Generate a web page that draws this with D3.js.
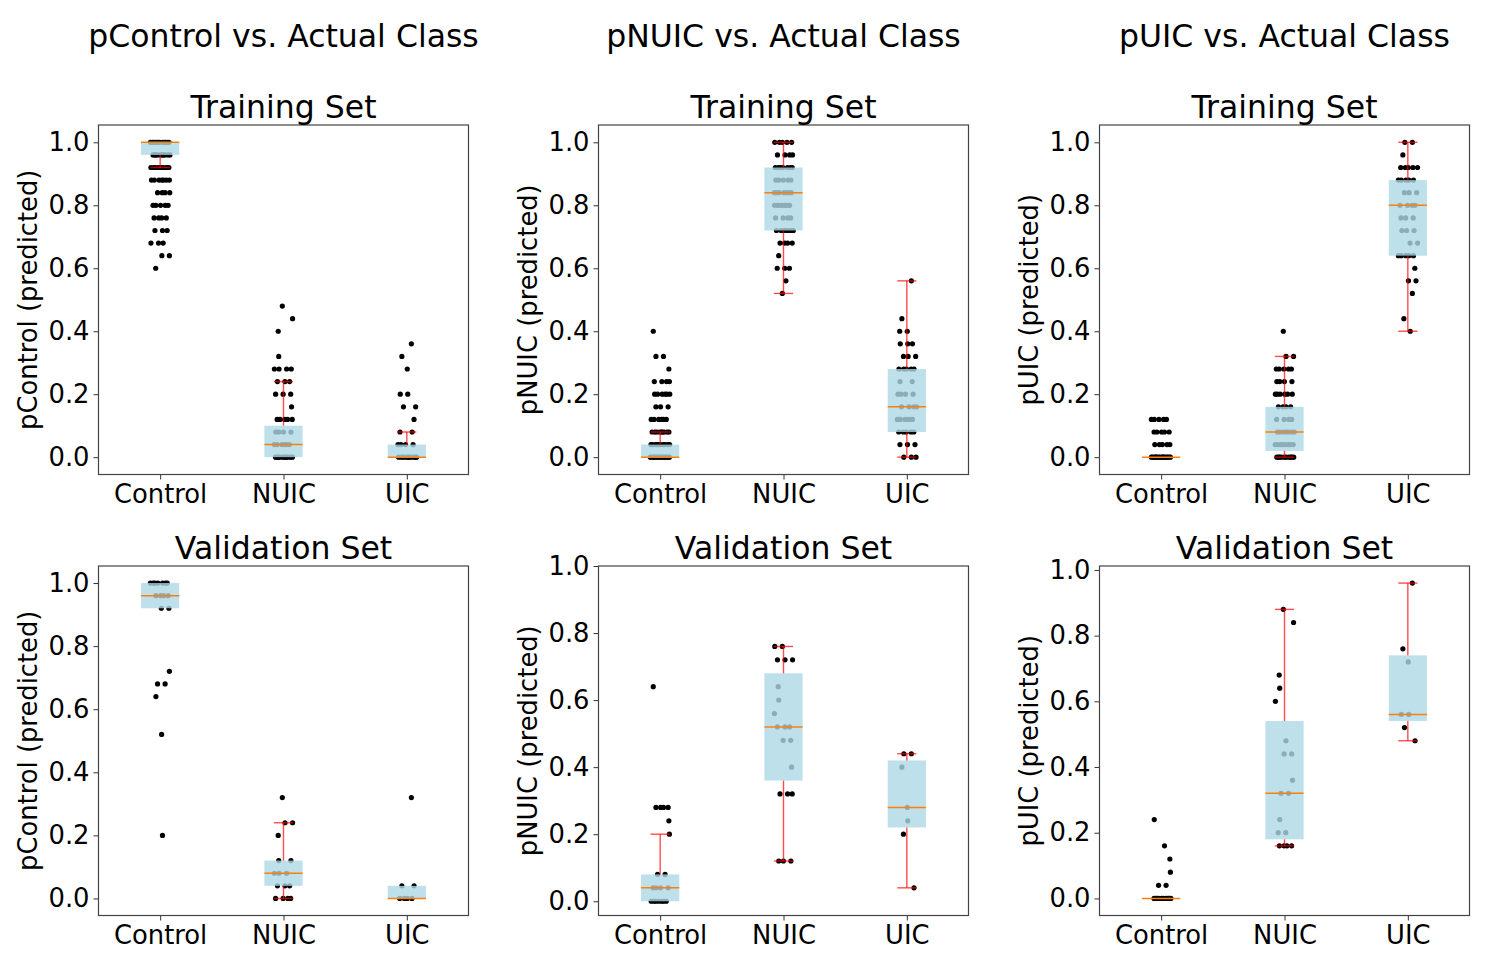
<!DOCTYPE html>
<html>
<head>
<meta charset="utf-8">
<script src="https://cdn.jsdelivr.net/npm/d3@7"></script>
<style>
  body { margin: 0; background: #fff; }
  svg { display: block; }
  text { font-family: "DejaVu Sans", sans-serif; fill: #000; }
</style>
</head>
<body>
<svg id="chart"></svg>
<script>
// categories / labels
const categories = ["Control", "NUIC", "UIC"];
const columnTitles = ["pControl vs. Actual Class", "pNUIC vs. Actual Class", "pUIC vs. Actual Class"];
const yLabels = ["pControl (predicted)", "pNUIC (predicted)", "pUIC (predicted)"];
const rowTitles = ["Training Set", "Validation Set"];
const yTicks = [0, 0.2, 0.4, 0.6, 0.8, 1.0];

// points per class as [value, count]
const pControlTrain = [
    [[1.00,12],[0.96,10],[0.92,10],[0.88,7],[0.84,4],[0.80,5],[0.76,4],[0.72,3],[0.68,3],[0.64,2],[0.60,1]],
    [[0.48,1],[0.44,1],[0.40,1],[0.32,1],[0.28,4],[0.24,3],[0.20,3],[0.16,1],[0.12,5],[0.08,4],[0.04,6],[0.00,10]],
    [[0.36,1],[0.32,1],[0.28,1],[0.20,2],[0.16,2],[0.12,1],[0.08,2],[0.04,4],[0.00,10]]
];
const pNUICTrain = [
    [[0.40,1],[0.32,2],[0.28,1],[0.24,4],[0.20,6],[0.16,3],[0.12,6],[0.08,9],[0.04,10],[0.00,14]],
    [[1.00,5],[0.96,4],[0.92,7],[0.88,5],[0.84,7],[0.80,7],[0.76,4],[0.72,7],[0.68,4],[0.64,1],[0.60,3],[0.56,1],[0.52,1]],
    [[0.56,1],[0.44,1],[0.40,2],[0.36,3],[0.32,3],[0.28,5],[0.24,2],[0.20,4],[0.16,4],[0.12,6],[0.08,5],[0.04,3],[0.00,3]]
];
const pUICTrain = [
    [[0.12,5],[0.08,5],[0.04,5],[0.00,16]],
    [[0.40,1],[0.32,2],[0.28,5],[0.24,4],[0.20,6],[0.16,4],[0.12,4],[0.08,8],[0.04,8],[0.00,10]],
    [[1.00,2],[0.96,1],[0.92,5],[0.88,5],[0.84,3],[0.80,4],[0.76,3],[0.72,3],[0.68,2],[0.64,5],[0.60,1],[0.56,2],[0.52,1],[0.44,1],[0.40,1]]
];
const pControlVal = [
    [[1.00,7],[0.96,4],[0.92,2],[0.72,1],[0.68,2],[0.64,1],[0.52,1],[0.20,1]],
    [[0.32,1],[0.24,2],[0.20,1],[0.12,2],[0.08,3],[0.04,3],[0.00,4]],
    [[0.32,1],[0.04,2],[0.00,4]]
];
const pNUICVal = [
    [[0.64,1],[0.28,4],[0.24,1],[0.20,1],[0.08,2],[0.04,4],[0.00,7]],
    [[0.76,2],[0.72,3],[0.64,1],[0.60,1],[0.56,1],[0.52,3],[0.48,2],[0.40,1],[0.32,3],[0.12,3]],
    [[0.44,2],[0.40,1],[0.28,1],[0.24,1],[0.20,1],[0.04,1]]
];
const pUICVal = [
    [[0.24,1],[0.16,1],[0.12,1],[0.08,1],[0.04,2],[0.00,10]],
    [[0.88,1],[0.84,1],[0.68,1],[0.64,1],[0.60,1],[0.48,1],[0.44,2],[0.36,1],[0.32,2],[0.24,1],[0.20,2],[0.16,4]],
    [[0.96,1],[0.76,1],[0.72,1],[0.56,2],[0.52,1],[0.48,1]]
];

// box stats per class: [q1, median, q3, whisker low, whisker high]
const pControlTrainBox = [[0.96,1.00,1.00,0.92,1.00],[0.00,0.04,0.10,0.00,0.24],[0.00,0.00,0.04,0.00,0.08]];
const pNUICTrainBox    = [[0.00,0.00,0.04,0.00,0.08],[0.72,0.84,0.92,0.52,1.00],[0.08,0.16,0.28,0.00,0.56]];
const pUICTrainBox     = [[0.00,0.00,0.00,0.00,0.00],[0.02,0.08,0.16,0.00,0.32],[0.64,0.80,0.88,0.40,1.00]];
const pControlValBox   = [[0.92,0.96,1.00,0.92,1.00],[0.04,0.08,0.12,0.00,0.24],[0.00,0.00,0.04,0.00,0.04]];
const pNUICValBox      = [[0.00,0.04,0.08,0.00,0.20],[0.36,0.52,0.68,0.12,0.76],[0.22,0.28,0.42,0.04,0.44]];
const pUICValBox       = [[0.00,0.00,0.00,0.00,0.00],[0.18,0.32,0.54,0.16,0.88],[0.54,0.56,0.74,0.48,0.96]];

// layout
const width = 1504, height = 955;
const colLeft = [98.5, 598.5, 1099.5];
const rowTop = [125, 566];
const axW = 370, axH = 349.5;
const boxWidth = 0.31;   // in category units
const jitter = 0.08;     // +/- in category units

const panels = [
    { row: 0, col: 0, pts: pControlTrain, box: pControlTrainBox, ydom: [-0.055, 1.055] },
    { row: 0, col: 1, pts: pNUICTrain,    box: pNUICTrainBox,    ydom: [-0.055, 1.055] },
    { row: 0, col: 2, pts: pUICTrain,     box: pUICTrainBox,     ydom: [-0.055, 1.055] },
    { row: 1, col: 0, pts: pControlVal,   box: pControlValBox,   ydom: [-0.054, 1.054] },
    { row: 1, col: 1, pts: pNUICVal,      box: pNUICValBox,      ydom: [-0.0425, 1.0] },
    { row: 1, col: 2, pts: pUICVal,       box: pUICValBox,       ydom: [-0.052, 1.012] }
];

const svg = d3.select('#chart').attr('width', width).attr('height', height);
svg.append('rect').attr('width', width).attr('height', height).attr('fill', '#fff');

// column titles
columnTitles.forEach((t, c) => {
    svg.append('text')
       .attr('x', colLeft[c] + axW / 2)
       .attr('y', 46.5)
       .attr('text-anchor', 'middle')
       .style('font-size', '31.5px')
       .text(t);
});

panels.forEach(p => {
    let g = svg.append('g')
               .attr('transform', `translate(${colLeft[p.col]},${rowTop[p.row]})`);

    let x = d3.scalePoint().domain(categories).range([0, axW]).padding(0.5);
    let step = x.step();
    let y = d3.scaleLinear().domain(p.ydom).range([axH, 0]);

    // expand [value,count] into individual points, spread sideways (strip plot style)
    let points = [];
    p.pts.forEach((levels, ci) => {
        levels.forEach(([v, n], li) => {
            for (let i = 0; i < n; i++) {
                // deterministic spread; quadratic in level index so dots don't line up in columns
                let frac = (i * 0.6180339887 + li * li * 0.3771 + li * 0.1414 + ci * 0.29 + 0.15) % 1;
                points.push({ cat: categories[ci], v: v, off: (frac * 2 - 1) * jitter });
            }
        });
    });

    g.append('g').selectAll('circle')
     .data(points)
     .enter()
     .append('circle')
     .attr('cx', d => x(d.cat) + d.off * step)
     .attr('cy', d => y(d.v))
     .attr('r', 2.6)
     .attr('fill', '#000');

    let stats = p.box.map((b, i) => ({ cat: categories[i], q1: b[0], med: b[1], q3: b[2], lo: b[3], hi: b[4] }));
    let bw = boxWidth * step;

    // boxes, semi-transparent over the points
    g.append('g').selectAll('rect')
     .data(stats)
     .enter()
     .append('rect')
     .attr('x', d => x(d.cat) - bw / 2)
     .attr('y', d => y(d.q3))
     .attr('width', bw)
     .attr('height', d => y(d.q1) - y(d.q3))
     .attr('fill', 'lightblue')
     .attr('fill-opacity', 0.8);

    // whiskers + caps
    let wg = g.append('g')
              .attr('stroke', 'red')
              .attr('stroke-opacity', 0.7)
              .attr('stroke-width', 1.4);
    stats.forEach(d => {
        [[d.q3, d.hi], [d.q1, d.lo]].forEach(([from, to]) => {
            if (from === to) return;
            wg.append('line')
              .attr('x1', x(d.cat)).attr('x2', x(d.cat))
              .attr('y1', y(from)).attr('y2', y(to));
            wg.append('line')
              .attr('x1', x(d.cat) - bw / 4).attr('x2', x(d.cat) + bw / 4)
              .attr('y1', y(to)).attr('y2', y(to));
        });
    });

    // medians
    g.append('g').selectAll('line')
     .data(stats)
     .enter()
     .append('line')
     .attr('x1', d => x(d.cat) - bw / 2)
     .attr('x2', d => x(d.cat) + bw / 2)
     .attr('y1', d => y(d.med))
     .attr('y2', d => y(d.med))
     .attr('stroke', '#ff7f0e')
     .attr('stroke-width', 1.5);

    // axes
    let xAxis = g.append('g')
                 .attr('transform', `translate(0,${axH})`)
                 .call(d3.axisBottom(x).tickSize(5).tickPadding(5));
    let yAxis = g.append('g')
                 .call(d3.axisLeft(y).tickValues(yTicks).tickFormat(d3.format('.1f')).tickSize(5).tickPadding(4));
    [xAxis, yAxis].forEach(a => {
        a.select('.domain').remove();
        a.selectAll('.tick line').attr('stroke', '#333').attr('stroke-width', 1);
        a.selectAll('.tick text').style('font-size', '25.8px').attr('fill', '#000')
         .style('font-family', '"DejaVu Sans", sans-serif');
    });

    // frame
    g.append('rect')
     .attr('width', axW).attr('height', axH)
     .attr('fill', 'none')
     .attr('stroke', '#444')
     .attr('stroke-width', 1.2);

    // subplot title
    g.append('text')
     .attr('x', axW / 2)
     .attr('y', -7)
     .attr('text-anchor', 'middle')
     .style('font-size', '31.5px')
     .text(rowTitles[p.row]);

    // y label
    g.append('text')
     .attr('transform', `translate(-61.5,${axH / 2}) rotate(-90)`)
     .attr('text-anchor', 'middle')
     .style('font-size', '25.8px')
     .text(yLabels[p.col]);
});
</script>
</body>
</html>
